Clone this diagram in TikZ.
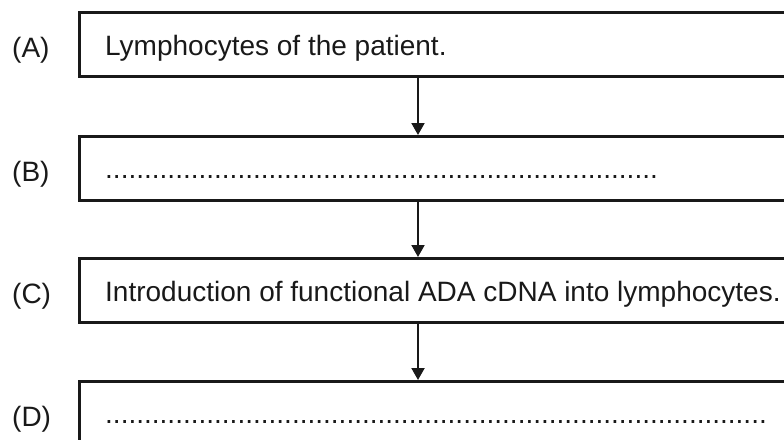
\documentclass[tikz,border=0pt]{standalone}
\usepackage{fontspec}
\setmainfont{Liberation Sans}
\usetikzlibrary{arrows.meta}
\tikzset{
  x=1pt, y=1pt,
  stagebox/.style={draw=black!90, line width=2.6pt, minimum width=740pt, minimum height=64pt, inner sep=0pt, anchor=north west},
  boxtext/.style={anchor=base west, inner sep=0pt, font=\fontsize{28}{34}\selectfont, text=black!90},
  tag/.style={anchor=base west, inner sep=0pt, font=\fontsize{28}{34}\selectfont, text=black!90},
  arr/.style={draw=black!90, line width=2pt, -{Triangle[length=12pt,width=13pt]}}
}
\begin{document}
\begin{tikzpicture}
\useasboundingbox (0,0) rectangle (784,-439);
\clip (0,0) rectangle (784,-439);
% boxes
\node[stagebox] (A) at (78,-11) {};
\node[stagebox] (B) at (78,-135) {};
\node[stagebox] (C) at (78,-257) {};
\node[stagebox] (D) at (78,-380) {};
% labels
\node[tag] (la) at (12,-57.5) {(A)};
\node[tag] (lb) at (12,-181.5) {(B)};
\node[tag] (lc) at (12,-303.5) {(C)};
\node[tag] (ld) at (12,-426.5) {(D)};
% texts
\node[boxtext] (ta) at (105,-55) {Lymphocytes of the patient.};
\node[boxtext] (tb) at (105,-178.5) {.......................................................................};
\node[boxtext] (tc) at (105,-301) {Introduction of functional ADA cDNA into lymphocytes.};
\node[boxtext] (td) at (105,-423.5) {.....................................................................................};
% arrows
\coordinate (ax) at (418,0);
\draw[arr] (A.south -| ax) -- (B.north -| ax);
\draw[arr] (B.south -| ax) -- (C.north -| ax);
\draw[arr] (C.south -| ax) -- (D.north -| ax);
\end{tikzpicture}
\end{document}
